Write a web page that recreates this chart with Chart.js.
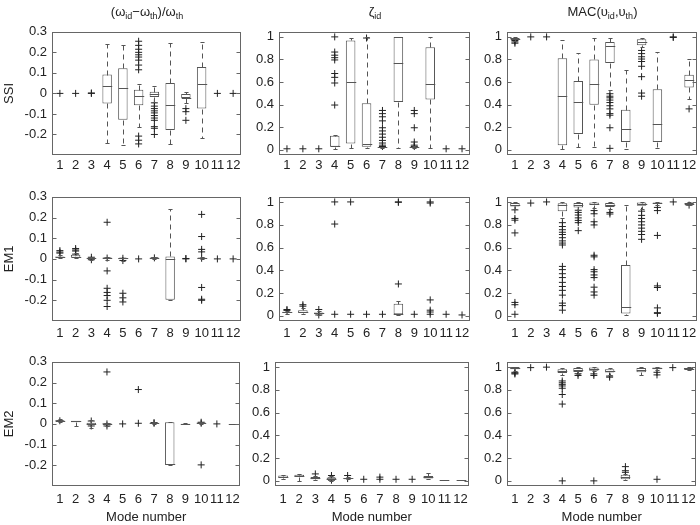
<!DOCTYPE html>
<html>
<head>
<meta charset="utf-8">
<script src="https://cdn.jsdelivr.net/npm/chart.js@4.4.1/dist/chart.umd.min.js"></script>
<style>
  body { margin: 0; background: #fff; }
  #wrap { position: relative; width: 700px; height: 525px; overflow: hidden; font-family: 'Liberation Sans', Arial, sans-serif; color: #222; }
  canvas { position: absolute; }
  .ttl { position: absolute; text-align: center; font-size: 13px; line-height: 16px; white-space: nowrap; }
  .ttl sub { font-size: 9px; vertical-align: -3px; line-height: 0; }
</style>
</head>
<body>
<div id="wrap"></div>
<script>
// categories
var modes = ['1', '2', '3', '4', '5', '6', '7', '8', '9', '10', '11', '12'];
var freqTicks = [-0.2, -0.1, 0, 0.1, 0.2, 0.3];
var unitTicks = [0, 0.2, 0.4, 0.6, 0.8, 1];

// box stats per mode: [lower whisker, q1, median, q3, upper whisker] (null = no box)
// SSI row
var ssiFreqStats = [null, null, null,
  [-0.243, -0.049, 0.038, 0.092, 0.243], [-0.249, -0.128, 0.026, 0.123, 0.238],
  [-0.162, -0.058, -0.015, 0.018, 0.046], [-0.04, -0.018, -0.005, 0.008, 0.034],
  [-0.246, -0.178, -0.058, 0.051, 0.246], [-0.045, -0.023, -0.02, -0.003, 0.005],
  [-0.215, -0.074, 0.046, 0.128, 0.249], null, null];
var ssiFreqOut = [[0], [0], [0, 0.002], [], [],
  [0.254, 0.234, 0.215, 0.2, 0.188, 0.177, 0.162, 0.138, 0.115, -0.208, -0.228, -0.246],
  [-0.046, -0.062, -0.074, -0.085, -0.095, -0.108, -0.12, -0.131, -0.162, -0.17, -0.2],
  [], [-0.074, -0.089, -0.131], [], [0], [0]];

var ssiDampStats = [null, null, null,
  [0.008, 0.028, 0.036, 0.126, 0.13], [0.02, 0.056, 0.6, 0.969, 0.994],
  [0.02, 0.028, 0.05, 0.413, 1.0], [0.015, 0.02, 0.022, 0.025, 0.03],
  [0.02, 0.425, 0.768, 1.0, 1.0], [0.015, 0.02, 0.022, 0.028, 0.035],
  [0.02, 0.447, 0.587, 0.908, 1.0], null, null];
var ssiDampOut = [[0.01], [0.01], [0.01],
  [1.0, 0.866, 0.838, 0.816, 0.796, 0.676, 0.642, 0.592, 0.397], [],
  [0.99], [0.349, 0.321, 0.293, 0.257, 0.196, 0.168, 0.14, 0.112, 0.084, 0.061, 0.042, 0.03],
  [], [0.349, 0.321, 0.196, 0.07, 0.042, 0.03], [], [0.01], [0.01]];

var ssiMacStats = [[0.965, 0.978, 0.985, 0.99, 1.0], null, null,
  [0.006, 0.042, 0.48, 0.81, 0.972], [0.028, 0.14, 0.427, 0.609, 0.86],
  [0.022, 0.4, 0.581, 0.8, 0.986], [0.53, 0.768, 0.922, 0.955, 0.986],
  [0.006, 0.07, 0.182, 0.355, 0.704], [0.91, 0.927, 0.955, 0.978, 0.99],
  [0.014, 0.07, 0.229, 0.536, 0.866], null, [0.447, 0.553, 0.615, 0.665, 0.804]];
var ssiMacOut = [[0.968, 0.955, 0.944], [1.0], [1.0], [], [], [],
  [0.497, 0.475, 0.461, 0.441, 0.419, 0.391, 0.363, 0.321, 0.307, 0.196, 0.014],
  [], [0.88, 0.852, 0.824, 0.804, 0.782, 0.74, 0.648, 0.503, 0.475], [], [1.0, 0.995], [0.363]];

// EM1 row
var em1FreqStats = [[0.003, 0.005, 0.008, 0.012, 0.02], [0.003, 0.006, 0.01, 0.02, 0.03],
  [-0.004, 0, 0.003, 0.006, 0.01], [-0.003, 0.002, 0.004, 0.007, 0.01],
  [-0.008, -0.002, 0.002, 0.004, 0.006], null, [0.001, 0.003, 0.005, 0.007, 0.009],
  [-0.2, -0.197, 0, 0.012, 0.243], null, [-0.002, 0.001, 0.003, 0.005, 0.008], null, null];
var em1FreqOut = [[0.04, 0.033, 0.028], [0.05, 0.043, 0.038, 0.023], [0.008, -0.004],
  [0.177, 0.004, -0.058, -0.142, -0.162, -0.177, -0.2, -0.23],
  [0.003, -0.008, -0.166, -0.188, -0.208], [0], [0.005], [], [0, 0.002],
  [0.215, 0.108, 0.046, 0.034, 0.003, -0.138, -0.195, -0.2], [0], [0]];

var em1DampStats = [[0.02, 0.025, 0.03, 0.036, 0.045], [0.02, 0.025, 0.036, 0.05, 0.07],
  [0.008, 0.015, 0.025, 0.03, 0.04], null, null, null, null,
  [0.01, 0.014, 0.02, 0.106, 0.132], null, null, null, null];
var em1DampOut = [[0.056, 0.048], [0.098, 0.085], [0.056, 0.008],
  [1.0, 0.806, 0.014], [1.0, 0.014], [0.014], [0.014], [0.997, 1.0, 0.28], [0.014],
  [1.0, 0.99, 0.14, 0.05, 0.034, 0.014], [0.014], [0.008]];

var em1MacStats = [[0.94, 0.96, 0.975, 0.99, 1.0], null, null,
  [0.86, 0.919, 0.975, 0.989, 1.0], [0.93, 0.95, 0.97, 0.99, 1.0],
  [0.95, 0.972, 0.985, 0.994, 1.0], [0.94, 0.955, 0.97, 0.99, 1.0],
  [0.006, 0.02, 0.076, 0.447, 0.975], [0.94, 0.966, 0.98, 0.994, 1.0],
  [0.975, 0.985, 0.99, 0.994, 1.0], null, [0.97, 0.98, 0.985, 0.99, 1.0]];
var em1MacOut = [[0.93, 0.855, 0.84, 0.728, 0.118, 0.098, 0.014], [0.99], [1.0],
  [0.818, 0.784, 0.756, 0.734, 0.714, 0.686, 0.658, 0.639, 0.622, 0.434, 0.406, 0.37, 0.336, 0.294, 0.258, 0.224, 0.182, 0.112, 0.09, 0.05],
  [0.927, 0.908, 0.885, 0.86, 0.838, 0.818, 0.748],
  [0.924, 0.896, 0.826, 0.798, 0.532, 0.518, 0.406, 0.387, 0.359, 0.336, 0.252, 0.21, 0.182],
  [0.908, 0.894], [], [0.919, 0.882, 0.855, 0.826, 0.798, 0.77, 0.742, 0.714, 0.672],
  [0.952, 0.924, 0.706, 0.263, 0.249, 0.07, 0.028, 0.022], [1.0], [0.972]];

// EM2 row
var em2FreqStats = [[0.008, 0.011, 0.014, 0.018, 0.022], [-0.01, 0.008, 0.012, 0.015, 0.016],
  [-0.02, -0.005, 0, 0.005, 0.02], [-0.008, -0.002, 0, 0.003, 0.006], null, null,
  [0, 0.002, 0.004, 0.006, 0.008], [-0.2, -0.198, -0.196, 0.008, 0.01],
  [-0.002, -0.001, 0, 0.001, 0.002], [0, 0.003, 0.005, 0.007, 0.01], null, [0, 0, 0, 0, 0]];
var em2FreqOut = [[0.015], [], [0.014, 0, -0.01], [0.251, 0, -0.01], [0], [0.166, 0.003],
  [0.003, 0.006], [], [], [0.008, 0.003, -0.198], [0], []];

var em2DampStats = [[0.02, 0.025, 0.035, 0.047, 0.05], [-0.005, 0.035, 0.045, 0.053, 0.056],
  [0.008, 0.014, 0.025, 0.033, 0.04], [0, 0.01, 0.02, 0.03, 0.04],
  [0.015, 0.018, 0.022, 0.025, 0.03], null, null, null, null,
  [0.015, 0.02, 0.03, 0.042, 0.067], [0.01, 0.011, 0.011, 0.012, 0.012], [0.005, 0.006, 0.006, 0.007, 0.007]];
var em2DampOut = [[], [], [0.061], [0.047, 0.025, 0.006], [0.047, 0.02], [0.014],
  [0.033, 0.014], [0.014], [0.014], [], [], []];

var em2MacStats = [[0.96, 0.98, 0.99, 1.0, 1.0], null, null,
  [0.93, 0.947, 0.96, 0.98, 0.99], [0.94, 0.955, 0.97, 0.99, 1.0],
  [0.96, 0.967, 0.98, 0.994, 1.0], [0.93, 0.95, 0.96, 0.98, 0.99],
  [0.005, 0.014, 0.03, 0.053, 0.06], [0.93, 0.953, 0.975, 0.99, 1.0],
  [0.97, 0.98, 0.99, 0.995, 1.0], null, [0.97, 0.975, 0.982, 0.99, 0.995]];
var em2MacOut = [[0.953, 0.945, 0.938], [0.994], [0.998],
  [0.877, 0.861, 0.847, 0.833, 0.813, 0.758, 0.674, 0.0], [0.94, 0.925],
  [0.939, 0.925, 0.0], [0.92, 0.91], [0.125, 0.089, 0.075], [],
  [0.953, 0.93, 0.014], [0.994], []];

// panel grid geometry
var cols = [{L: 52, W: 190}, {L: 279, W: 192}, {L: 507, W: 191}];
var rows = [{T: 25, H: 130, pad: 3}, {T: 190, H: 131, pad: 5}, {T: 355, H: 131, pad: 6}];
var textColor = '#222';
var font = {family: "'Liberation Sans', Arial, sans-serif", size: 13};

var panels = [
  {row: 0, col: 0, stats: ssiFreqStats, out: ssiFreqOut, ticks: freqTicks, min: -0.3, max: 0.3, yTitle: 'SSI'},
  {row: 0, col: 1, stats: ssiDampStats, out: ssiDampOut, ticks: unitTicks, min: -0.045, max: 1.045},
  {row: 0, col: 2, stats: ssiMacStats, out: ssiMacOut, ticks: unitTicks, min: -0.045, max: 1.045},
  {row: 1, col: 0, stats: em1FreqStats, out: em1FreqOut, ticks: freqTicks, min: -0.3, max: 0.3, yTitle: 'EM1'},
  {row: 1, col: 1, stats: em1DampStats, out: em1DampOut, ticks: unitTicks, min: -0.045, max: 1.045},
  {row: 1, col: 2, stats: em1MacStats, out: em1MacOut, ticks: unitTicks, min: -0.045, max: 1.045},
  {row: 2, col: 0, stats: em2FreqStats, out: em2FreqOut, ticks: freqTicks, min: -0.3, max: 0.3, yTitle: 'EM2'},
  {row: 2, col: 1, stats: em2DampStats, out: em2DampOut, ticks: unitTicks, min: -0.045, max: 1.045, L: 275, W: 195},
  {row: 2, col: 2, stats: em2MacStats, out: em2MacOut, ticks: unitTicks, min: -0.045, max: 1.045}
];

var titles = [
  '(ω<sub>id</sub>−ω<sub>th</sub>)/ω<sub>th</sub>',
  'ζ<sub>id</sub>',
  'MAC(υ<sub>id</sub>,υ<sub>th</sub>)'
];

var panelOf = new Map();

// whiskers, medians, frame and inner ticks
var boxPlugin = {
  id: 'boxes',
  afterDatasetsDraw: function(chart) {
    var p = panelOf.get(chart.canvas);
    if (!p) return;
    var ctx = chart.ctx, a = chart.chartArea, xs = chart.scales.x, ys = chart.scales.y;
    var step = xs.getPixelForValue(1) - xs.getPixelForValue(0);
    var py = function(v) { return Math.round(ys.getPixelForValue(v)) + 0.5; };
    var seg = function(x1, y1, x2, y2) { ctx.beginPath(); ctx.moveTo(x1, y1); ctx.lineTo(x2, y2); ctx.stroke(); };
    ctx.save();
    ctx.lineWidth = 1;
    ctx.strokeStyle = '#555';
    p.stats.forEach(function(s, i) {
      if (!s) return;
      var x = Math.round(xs.getPixelForValue(i)) + 0.5;
      ctx.setLineDash([5, 4]);
      if (s[4] > s[3]) seg(x, py(s[3]), x, py(s[4]));
      if (s[0] < s[1]) seg(x, py(s[1]), x, py(s[0]));
      ctx.setLineDash([]);
      var cw = step * 0.13, mw = step * 0.3;
      seg(x - cw, py(s[4]), x + cw, py(s[4]));
      seg(x - cw, py(s[0]), x + cw, py(s[0]));
      seg(x - mw, py(s[2]), x + mw, py(s[2]));
    });
    ctx.strokeStyle = '#666';
    var l = Math.round(a.left) + 0.5, r = Math.round(a.right) - 0.5;
    var t = Math.round(a.top) + 0.5, b = Math.round(a.bottom) - 0.5;
    ctx.strokeRect(l, t, r - l, b - t);
    p.ticks.forEach(function(v) {
      var yy = py(v);
      seg(l, yy, l + 4, yy);
      seg(r - 4, yy, r, yy);
    });
    ctx.restore();
  }
};
Chart.register(boxPlugin);

var wrap = document.getElementById('wrap');

panels.forEach(function(p) {
  var c = cols[p.col], r = rows[p.row];
  var L = p.L || c.L, W = p.W || c.W;
  var ml = p.col === 0 ? 52 : 44, mt = 6, mr = 4, mb = p.row === 2 ? 42 : 24;

  var cv = document.createElement('canvas');
  cv.width = ml + W + mr;
  cv.height = mt + r.H + mb;
  cv.style.left = (L - ml) + 'px';
  cv.style.top = (r.T - mt) + 'px';
  wrap.appendChild(cv);
  panelOf.set(cv, p);

  var boxes = p.stats.map(function(s) { return s ? [s[1], s[3]] : null; });
  var pts = [];
  p.out.forEach(function(vals, i) {
    vals.forEach(function(v) { pts.push({x: modes[i], y: v}); });
  });

  new Chart(cv, {
    type: 'bar',
    data: {
      labels: modes,
      datasets: [{
        data: boxes,
        backgroundColor: '#fff',
        borderColor: '#555',
        borderWidth: 1,
        borderSkipped: false,
        barPercentage: 0.6,
        categoryPercentage: 1
      }, {
        type: 'line',
        data: pts,
        showLine: false,
        pointStyle: 'cross',
        pointRadius: 3.5,
        pointBorderWidth: 1,
        pointBorderColor: '#222',
        borderColor: '#222'
      }]
    },
    options: {
      responsive: false,
      animation: false,
      events: [],
      layout: {padding: {top: mt, right: mr, left: 0, bottom: 0}},
      plugins: {legend: {display: false}, tooltip: {enabled: false}},
      scales: {
        x: {
          grid: {display: false, drawTicks: false},
          border: {display: false},
          ticks: {color: textColor, font: font, padding: r.pad, maxRotation: 0, autoSkip: false},
          title: {display: p.row === 2, text: 'Mode number', color: textColor, font: font, padding: {top: 0, bottom: 3}},
          afterFit: function(s) { s.height = mb; }
        },
        y: {
          min: p.min,
          max: p.max,
          grid: {display: false, drawTicks: false},
          border: {display: false},
          ticks: {
            color: textColor, font: font, padding: 5,
            callback: function(v) { return String(Math.round(v * 10) / 10); }
          },
          afterBuildTicks: function(s) { s.ticks = p.ticks.map(function(v) { return {value: v}; }); },
          title: {display: !!p.yTitle, text: p.yTitle || '', color: textColor, font: font, padding: {top: 2, bottom: 0}},
          afterFit: function(s) { s.width = ml; }
        }
      }
    }
  });
});

// column titles with subscripts
titles.forEach(function(html, i) {
  var d = document.createElement('div');
  d.className = 'ttl';
  d.innerHTML = html;
  d.style.left = cols[i].L + 'px';
  d.style.width = cols[i].W + 'px';
  d.style.top = '4px';
  wrap.appendChild(d);
});
</script>
</body>
</html>
